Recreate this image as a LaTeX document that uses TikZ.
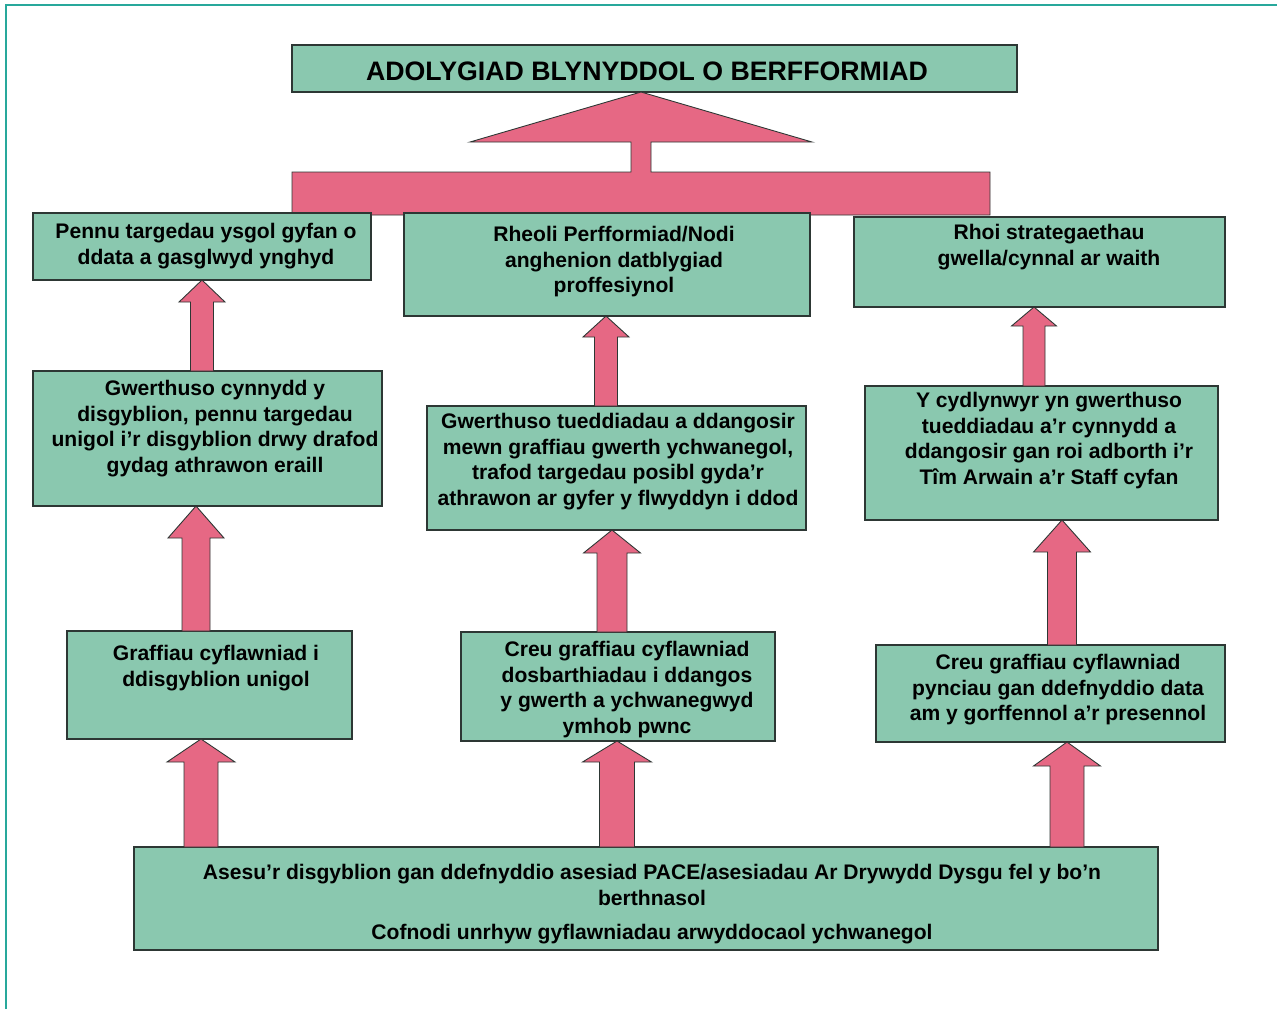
\documentclass[tikz,border=0pt]{standalone}
\usepackage{fontspec}
\setmainfont{Liberation Sans}
\usetikzlibrary{calc}
\definecolor{boxgreen}{RGB}{138,200,175}
\definecolor{arrpink}{RGB}{230,104,132}
\definecolor{frameteal}{RGB}{40,168,155}
\definecolor{edgecol}{RGB}{45,55,52}
\tikzset{
  box/.style={draw=edgecol, line width=0.7pt, fill=boxgreen, rectangle, inner sep=0pt, outer sep=0pt},
  txt/.style={anchor=north, align=center, inner sep=0pt, text=black, font=\bfseries\fontsize{12}{14.5}\selectfont},
  titletxt/.style={anchor=north, inner sep=0pt, text=black, font=\bfseries\fontsize{15.2}{18}\selectfont},
  arr/.style={draw=edgecol, line width=0.5pt, fill=arrpink, line join=miter},
  frameline/.style={draw=frameteal, line width=1.2pt},
}
% #1 name, #2 x1, #3 y1, #4 x2, #5 y2 (pixels, y downwards)
\newcommand\mkbox[5]{\node[box, minimum width={(#4-#2)*0.02cm}, minimum height={(#5-#3)*0.02cm}] (#1) at ({(#2+#4)/2},{(#3+#5)/2}) {};}
% #1 x (px), #2 source node, #3 target node, #4 shaft half width, #5 head half width, #6 head length
\newcommand\blockarr[6]{%
  \draw[arr] let \p1=(#2.north), \p2=(#3.south) in
    ({(#1-#4)*0.02cm},\y1) -- ({(#1-#4)*0.02cm},{\y2-#6*0.02cm}) -- ({(#1-#5)*0.02cm},{\y2-#6*0.02cm})
    -- ({#1*0.02cm},\y2) -- ({(#1+#5)*0.02cm},{\y2-#6*0.02cm}) -- ({(#1+#4)*0.02cm},{\y2-#6*0.02cm})
    -- ({(#1+#4)*0.02cm},\y1) -- cycle;}
\begin{document}
\begin{tikzpicture}[x=0.02cm, y=-0.02cm]
\useasboundingbox (0,0) rectangle (1277,1009);
\fill[white] (0,0) rectangle (1277,1009);
% frame
\coordinate (fbl) at (6,1009);
\coordinate (ftl) at (6,5);
\coordinate (ftr) at (1277,5);
\draw[frameline] (fbl) -- (ftl) -- (ftr);

% title
\mkbox{title}{292}{45}{1017}{92}
\node[titletxt] (ttitle) at (647,61) {ADOLYGIAD BLYNYDDOL O BERFFORMIAD};

% bar with stem and triangle
\node[inner sep=0pt, outer sep=0pt, minimum width={698*0.02cm}, minimum height={43*0.02cm}] (bar) at (641,193.5) {};
\draw[arr] let \p1=(bar.north west), \p2=(bar.south east), \p3=(title.south) in
  (\x1,\y2) -- (\x1,\y1) -- ({631*0.02cm},\y1) -- ({631*0.02cm},{\y3-50*0.02cm}) -- ({470*0.02cm},{\y3-50*0.02cm})
  -- ({641*0.02cm},\y3) -- ({812*0.02cm},{\y3-50*0.02cm}) -- ({651*0.02cm},{\y3-50*0.02cm})
  -- ({651*0.02cm},\y1) -- (\x2,\y1) -- (\x2,\y2) -- cycle;

% top row
\mkbox{l1}{33}{213}{371}{280}
\mkbox{m1}{404}{213}{810}{316}
\mkbox{r1}{854}{217}{1225}{307}
\node[txt] (tl1) at (206,223) {Pennu targedau ysgol gyfan o\\ddata a gasglwyd ynghyd};
\node[txt] (tm1) at (614,226) {Rheoli Perfformiad/Nodi\\anghenion datblygiad\\proffesiynol};
\node[txt] (tr1) at (1049,224) {Rhoi strategaethau\\gwella/cynnal ar waith};

% second row
\mkbox{l2}{33}{371}{382}{506}
\mkbox{m2}{427}{406}{806}{530}
\mkbox{r2}{865}{386}{1218}{520}
\node[txt] (tl2) at (215,380) {Gwerthuso cynnydd y\\disgyblion, pennu targedau\\unigol i’r disgyblion drwy drafod\\gydag athrawon eraill};
\node[txt] (tm2) at (618,413) {Gwerthuso tueddiadau a ddangosir\\mewn graffiau gwerth ychwanegol,\\trafod targedau posibl gyda’r\\athrawon ar gyfer y flwyddyn i ddod};
\node[txt] (tr2) at (1049,392) {Y cydlynwyr yn gwerthuso\\tueddiadau a’r cynnydd a\\ddangosir gan roi adborth i’r\\Tîm Arwain a’r Staff cyfan};

% third row
\mkbox{l3}{67}{631}{352}{739}
\mkbox{m3}{461}{632}{775}{741}
\mkbox{r3}{876}{645}{1225}{742}
\node[txt] (tl3) at (216,645) {Graffiau cyflawniad i\\ddisgyblion unigol};
\node[txt] (tm3) at (627,641) {Creu graffiau cyflawniad\\dosbarthiadau i ddangos\\y gwerth a ychwanegwyd\\ymhob pwnc};
\node[txt] (tr3) at (1058,654) {Creu graffiau cyflawniad\\pynciau gan ddefnyddio data\\am y gorffennol a’r presennol};

% bottom
\mkbox{bottom}{134}{847}{1158}{950}
\node[txt] (tb) at (652,864) {Asesu’r disgyblion gan ddefnyddio asesiad PACE/asesiadau Ar Drywydd Dysgu fel y bo’n\\berthnasol\\[5pt]Cofnodi unrhyw gyflawniadau arwyddocaol ychwanegol};

% arrows
\blockarr{201}{bottom}{l3}{17}{34}{23}
\blockarr{196}{l3}{l2}{14}{28}{32}
\blockarr{202}{l2}{l1}{11.5}{23}{22}
\blockarr{617}{bottom}{m3}{17.5}{34.5}{21}
\blockarr{612}{m3}{m2}{15}{28.5}{23}
\blockarr{606}{m2}{m1}{11.5}{23}{21}
\blockarr{1067}{bottom}{r3}{17}{33.5}{24}
\blockarr{1062}{r3}{r2}{14.5}{28.5}{32}
\blockarr{1034}{r2}{r1}{11}{22.5}{19}
\end{tikzpicture}
\end{document}
